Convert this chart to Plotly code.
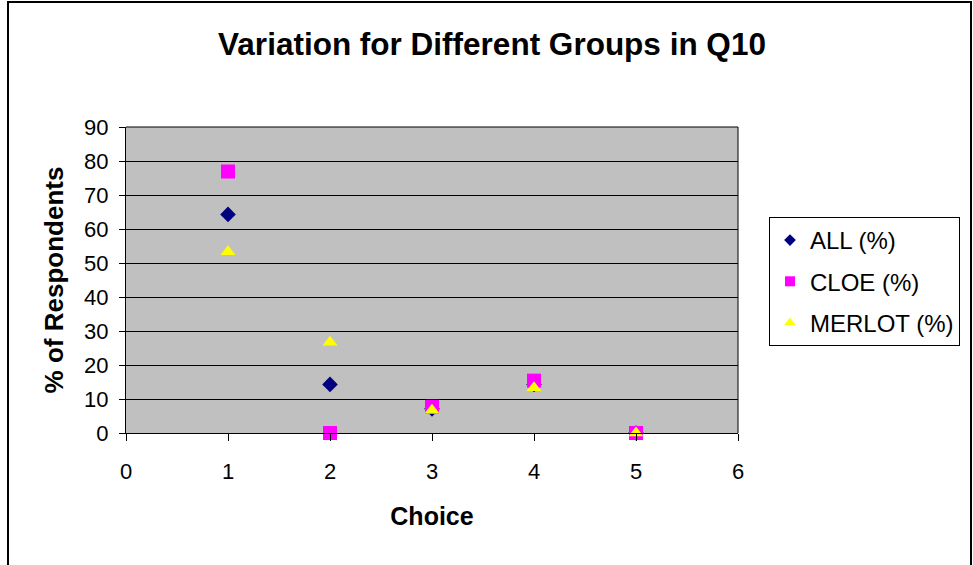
import plotly.graph_objects as go

choices = [1, 2, 3, 4, 5]
all_pct = [64.3, 14.3, 7.1, 14.3, 0]
cloe_pct = [76.9, 0, 7.7, 15.4, 0]
merlot_pct = [53.3, 26.7, 6.7, 13.3, 0]

W, H = 973, 565
L, R, T, B = 126, 738, 127, 433  # plot area in pixels
pw, ph = R - L, B - T

series = [
    ("ALL (%)", all_pct, "diamond", "#000080", 12, 9),
    ("CLOE (%)", cloe_pct, "square", "#FF00FF", 14, 10),
    ("MERLOT (%)", merlot_pct, "triangle-up", "#FFFF00", 13, 10),
]

fig = go.Figure()
for name, vals, sym, col, size, lsize in series:
    fig.add_trace(go.Scatter(x=choices, y=vals, mode="markers", name=name,
                             showlegend=False, cliponaxis=False, legendgroup=name,
                             marker=dict(symbol=sym, color=col, size=size)))
for name, vals, sym, col, size, lsize in series:
    fig.add_trace(go.Scatter(x=[None], y=[None], mode="markers", name=name,
                             legendgroup=name, showlegend=True,
                             marker=dict(symbol=sym, color=col, size=lsize)))

def px(x):
    return (x - L) / pw

def py(y):
    return (B - y) / ph

fig.add_shape(type="rect", xref="paper", yref="paper",
              x0=px(8), x1=px(971), y0=py(600), y1=py(2),
              line=dict(color="black", width=2), layer="below")

fig.update_layout(
    width=W, height=H,
    margin=dict(l=L, r=W - R, t=T, b=H - B, pad=0, autoexpand=False),
    paper_bgcolor="white",
    plot_bgcolor="#C0C0C0",
    font=dict(family="Arial, Liberation Sans, sans-serif", color="black", size=22),
    title=dict(text="<b>Variation for Different Groups in Q10</b>",
               x=492 / W, xanchor="center", y=1 - 44 / H, yanchor="middle",
               font=dict(size=31.5, color="black")),
    xaxis=dict(range=[0, 6], tickmode="linear", dtick=1, showgrid=False, zeroline=False,
               showline=True, linecolor="black", linewidth=1,
               ticks="outside", ticklen=7, tickcolor="black", ticklabelstandoff=12,
               tickfont=dict(size=22),
               title=dict(text="<b>Choice</b>", font=dict(size=25), standoff=24)),
    yaxis=dict(range=[0, 90], tickmode="linear", dtick=10, showgrid=True,
               gridcolor="black", gridwidth=1, zeroline=False,
               showline=True, linecolor="black", linewidth=1,
               ticks="outside", ticklen=6, tickcolor="black", ticklabelstandoff=6,
               tickfont=dict(size=22),
               title=dict(text="<b>% of Respondents</b>", font=dict(size=26), standoff=13)),
    legend=dict(x=px(769), y=py(217), xanchor="left", yanchor="top",
                bgcolor="white", bordercolor="black", borderwidth=1,
                font=dict(size=24), itemsizing="trace", tracegroupgap=7,
                traceorder="grouped"),
    showlegend=True,
)
fig.add_shape(type="line", xref="paper", yref="paper", x0=1, x1=1, y0=0, y1=1,
              line=dict(color="black", width=1))
fig.add_shape(type="line", xref="paper", yref="paper", x0=0, x1=1, y0=1, y1=1,
              line=dict(color="black", width=1))

fig.write_html("out.html", config={"displayModeBar": False},
               post_script="document.body.style.margin='0';document.body.style.overflow='hidden';")
